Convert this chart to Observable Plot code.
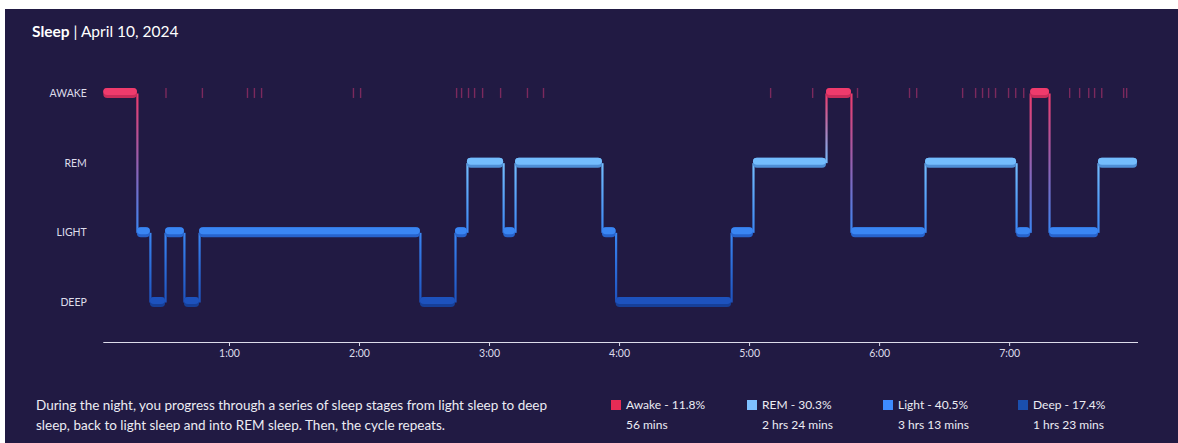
<!DOCTYPE html>
<html>
<head>
<meta charset="utf-8">
<script src="https://cdn.jsdelivr.net/npm/d3@7"></script>
<script src="https://cdn.jsdelivr.net/npm/@observablehq/plot@0.6"></script>
<style>
html, body { margin:0; padding:0; background:#ffffff; width:1178px; height:443px; overflow:hidden; font-family: Lato, "Open Sans", sans-serif; }
#card { position:absolute; left:5px; top:9px; width:1173px; height:434px; background:#211a43; }
#title { position:absolute; left:32px; top:22px; color:#ffffff; font-size:15.5px; line-height:18px; white-space:nowrap; }
#title b { font-weight:700; }
#chart { position:absolute; left:0; top:60px; }
#desc { position:absolute; left:36px; top:395px; color:#ececf3; font-size:13.5px; line-height:20px; white-space:nowrap; }
.leg { position:absolute; top:395px; color:#ececf3; font-size:12px; line-height:20px; white-space:nowrap; }
.leg .sw { position:absolute; left:-15px; top:5px; width:10px; height:10px; }
</style>
</head>
<body>
<div id="card"></div>
<div id="title"><b>Sleep</b> | April 10, 2024</div>
<div id="chart"></div>
<div id="desc">During the night, you progress through a series of sleep stages from light sleep to deep<br>sleep, back to light sleep and into REM sleep. Then, the cycle repeats.</div>
<div id="legend"></div>
<script>
// ---- data ----
const stages = ["AWAKE", "REM", "LIGHT", "DEEP"];
const stageColors = ["#ef3b6c", "#74bdfd", "#3a86f3", "#1d52bd"];
const stageShades = ["#c92c5a", "#4f8fd6", "#2763cc", "#163f98"];
const legendColors = ["#e62b55", "#7ec0ff", "#3d8bff", "#1a4fae"];
const legendNames = ["Awake", "REM", "Light", "Deep"];
const legendPct = ["11.8%", "30.3%", "40.5%", "17.4%"];
const legendDur = ["56 mins", "2 hrs 24 mins", "3 hrs 13 mins", "1 hrs 23 mins"];
const legendLeft = [626, 762, 898, 1033];

// minutes since going to bed
const segStage = ["AWAKE","LIGHT","DEEP","LIGHT","DEEP","LIGHT","DEEP","LIGHT","REM","LIGHT","REM",
                  "LIGHT","DEEP","LIGHT","REM","AWAKE","LIGHT","REM","LIGHT","AWAKE","LIGHT","REM"];
const segStart = [2, 17.5, 23.5, 30.5, 39.2, 46.2, 148.1, 164.3, 169.8, 186.5, 192,
                  232.1, 238.4, 291.7, 301.8, 335.5, 347, 381.2, 423.2, 429.7, 438.4, 461];
const sleepEnd = 479;

const awakeTicks = [30.7, 47.5, 68.3, 71.5, 74.8, 117.2, 120.5, 164.8, 167.1, 170.3, 173.1, 176.8,
                    185.1, 197.5, 204.9, 309.7, 329.1, 349.8, 373.8, 377.1, 398.3, 404.3, 407.5,
                    410.3, 413.5, 419.5, 422.8, 426.5, 447.7, 452.3, 456.5, 459.2, 462.5, 472.6, 474.0];

const hourTicks = [60, 120, 180, 240, 300, 360, 420];
const hourLabels = ["1:00", "2:00", "3:00", "4:00", "5:00", "6:00", "7:00"];

// ---- derived tables ----
const segments = segStage.map((s, i) => ({
  stage: s,
  start: segStart[i],
  end: i + 1 < segStart.length ? segStart[i + 1] : sleepEnd
}));
const transitions = segStage.slice(1).map((s, i) => ({t: segStart[i + 1], from: segStage[i], to: s}));
const idx = s => stages.indexOf(s);
const pairKey = d => { const a = idx(d.from), b = idx(d.to); return a < b ? stages[a] + "-" + stages[b] : stages[b] + "-" + stages[a]; };
const pairs = Array.from(new Set(transitions.map(pairKey)));

const marks = [];
marks.push(Plot.tickX(awakeTicks, {x: d => d, y: () => "AWAKE", stroke: "#9a2f66", strokeWidth: 1.4, strokeOpacity: 0.75}));
for (const key of pairs) {
  marks.push(Plot.link(transitions.filter(d => pairKey(d) === key), {
    x1: "t", x2: "t", y1: "from", y2: "to", stroke: `url(#g-${key})`, strokeWidth: 2.2
  }));
}
stages.forEach((s, i) => {
  const data = segments.filter(d => d.stage === s);
  marks.push(Plot.barX(data, {x1: "start", x2: "end", y: "stage", fill: stageShades[i], rx: 4}));
  marks.push(Plot.barX(data, {x1: "start", x2: "end", y: "stage", fill: stageColors[i], rx: 4, insetBottom: 3}));
});

const chart = Plot.plot({
  width: 1178,
  height: 310,
  marginLeft: 103.3,
  marginRight: 41,
  marginTop: 28,
  marginBottom: 28,
  style: {background: "transparent", color: "#dddcea", fontFamily: "Lato, sans-serif", fontSize: "10.5px"},
  x: {
    domain: [2, sleepEnd],
    ticks: hourTicks,
    tickFormat: d => hourLabels[hourTicks.indexOf(d)],
    line: true,
    tickSize: 4,
    tickPadding: 3,
    label: null
  },
  y: {
    type: "band",
    domain: stages,
    range: [28, 247],
    paddingInner: 0.857,
    paddingOuter: 0,
    round: false,
    tickSize: 0,
    tickPadding: 17,
    label: null
  },
  marks
});
document.getElementById("chart").appendChild(chart);

// gradients for the stage-to-stage connectors
const ys = chart.scale("y");
const defs = d3.select(chart).insert("defs", ":first-child");
for (const key of pairs) {
  const [a, b] = key.split("-");
  const g = defs.append("linearGradient")
    .attr("id", "g-" + key)
    .attr("gradientUnits", "userSpaceOnUse")
    .attr("x1", 0).attr("x2", 0)
    .attr("y1", ys.apply(a)).attr("y2", ys.apply(b));
  g.append("stop").attr("offset", "0%").attr("stop-color", stageColors[idx(a)]);
  g.append("stop").attr("offset", "100%").attr("stop-color", stageColors[idx(b)]);
}

// legend
const legend = document.getElementById("legend");
legendNames.forEach((n, i) => {
  const el = document.createElement("div");
  el.className = "leg";
  el.style.left = legendLeft[i] + "px";
  el.innerHTML = `<span class="sw" style="background:${legendColors[i]}"></span>${n} - ${legendPct[i]}<br>${legendDur[i]}`;
  legend.appendChild(el);
});
</script>
</body>
</html>
